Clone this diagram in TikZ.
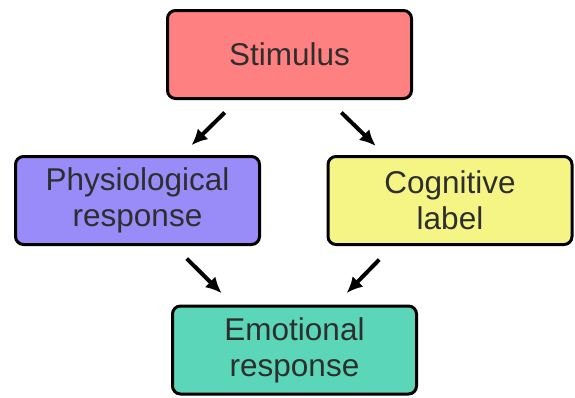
\documentclass[tikz,border=0pt]{standalone}
\usepackage{fontspec}
\setmainfont{Liberation Sans}
\usetikzlibrary{arrows.meta}

\definecolor{stimred}{HTML}{FF8080}
\definecolor{physpurple}{HTML}{9A8CF8}
\definecolor{coglabel}{HTML}{F5F586}
\definecolor{emoteal}{HTML}{5CD6B9}

\tikzset{
	box/.style={draw=black, line width=3pt, rounded corners=8pt, minimum width=244pt,
		minimum height=88pt, inner sep=0pt, align=center, text=black!82,
		font=\fontsize{31.5}{36}\selectfont},
	link/.style={-{Latex[length=16pt,width=15pt]}, line width=4pt}
}

\begin{document}
\begin{tikzpicture}[x=1pt,y=-1pt]
	\useasboundingbox (0,0) rectangle (575,397);

	\node[box, fill=stimred] (stim) at (289.5,54.5) {Stimulus};
	\node[box, fill=physpurple] (phys) at (137.5,200.5) {Physiological\\response};
	\node[box, fill=coglabel] (cog) at (450,200.5) {Cognitive\\label};
	\node[box, fill=emoteal] (emo) at (294.5,350) {Emotional\\response};

	\draw[link, shorten <=18pt, shorten >=14pt] ([xshift=-52pt]stim.south) -- ([xshift=44pt]phys.north);
	\draw[link, shorten <=18pt, shorten >=13pt] ([xshift=39pt]stim.south) -- ([xshift=-65pt]cog.north);
	\draw[link, shorten <=18pt, shorten >=16pt] ([xshift=36.5pt]phys.south) -- ([xshift=-61.5pt]emo.north);
	\draw[link, shorten <=19pt, shorten >=16pt] ([xshift=-57.5pt]cog.south) -- ([xshift=41pt]emo.north);

\end{tikzpicture}
\end{document}
